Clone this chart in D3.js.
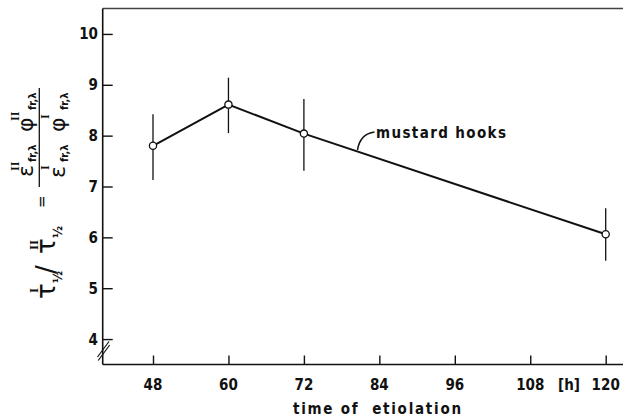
<!DOCTYPE html>
<html>
<head>
<meta charset="utf-8">
<script src="https://cdn.jsdelivr.net/npm/d3@7"></script>
<style>
  html, body { margin: 0; padding: 0; background: #fff; }
  svg { display: block; }
  .lbl { font-family: "DejaVu Sans Condensed", "DejaVu Sans", sans-serif; font-stretch: condensed; font-weight: bold; fill: #111; }
  .math { font-family: "DejaVu Sans", sans-serif; fill: #111; }
</style>
</head>
<body>
<svg id="chart" width="623" height="419"></svg>
<script>
// ---- data ----
const hours = [48, 60, 72, 120];
const ratio = [7.80, 8.61, 8.04, 6.06];
const errUpper = [8.42, 9.14, 8.72, 6.57];
const errLower = [7.13, 8.05, 7.31, 5.54];
const xTicks = [48, 60, 72, 84, 96, 108, 120];
const yTicks = [4, 5, 6, 7, 8, 9, 10];
const xTitle = "time of  etiolation";
const seriesLabel = "mustard hooks";
const unitLabel = "[h]";

const svg = d3.select("#chart");
const W = 623, H = 419;
const plotLeft = 102.7, plotBottom = 364.5, plotTop = 8.5;

const x = d3.scaleLinear().domain([40, 120]).range([plotLeft, 605.7]);
const y = d3.scaleLinear().domain([3.5, 10.5]).range([plotBottom, plotTop]);

// frame: top border and axes
svg.append("line").attr("x1", plotLeft).attr("x2", W).attr("y1", plotTop).attr("y2", plotTop)
  .attr("stroke", "#444").attr("stroke-width", 1.3);

// y axis (ticks inside)
const yAxis = d3.axisRight(y).tickValues(yTicks).tickSize(10).tickFormat("");
const gy = svg.append("g").attr("transform", `translate(${plotLeft},0)`).call(yAxis);
gy.select(".domain").remove();
gy.selectAll(".tick line").attr("stroke", "#111").attr("stroke-width", 1.4);
svg.append("line").attr("x1", plotLeft).attr("x2", plotLeft).attr("y1", plotTop).attr("y2", plotBottom)
  .attr("stroke", "#111").attr("stroke-width", 1.6);
svg.append("g").selectAll("text").data(yTicks).join("text")
  .attr("class", "lbl").attr("x", 98).attr("y", d => y(d) + 5.5)
  .attr("text-anchor", "end").attr("font-size", 15).text(d => d);

// x axis (ticks inside)
const xAxis = d3.axisTop(x).tickValues(xTicks).tickSize(9).tickFormat("");
const gx = svg.append("g").attr("transform", `translate(0,${plotBottom})`).call(xAxis);
gx.select(".domain").remove();
gx.selectAll(".tick line").attr("stroke", "#111").attr("stroke-width", 1.4);
svg.append("line").attr("x1", plotLeft).attr("x2", W).attr("y1", plotBottom).attr("y2", plotBottom)
  .attr("stroke", "#111").attr("stroke-width", 1.6);
svg.append("g").selectAll("text").data(xTicks).join("text")
  .attr("class", "lbl").attr("x", d => x(d)).attr("y", 390)
  .attr("text-anchor", "middle").attr("font-size", 15).text(d => d);
svg.append("text").attr("class", "lbl").attr("x", (x(108) + x(120)) / 2 + 1).attr("y", 390)
  .attr("text-anchor", "middle").attr("font-size", 15).text(unitLabel);

// axis break marks
[0, 3.5].forEach(o => {
  svg.append("line").attr("x1", 97.5 + o * 0.2).attr("y1", 357 + o).attr("x2", 109 + o * 0.2).attr("y2", 341.5 + o)
    .attr("stroke", "#111").attr("stroke-width", 1.2);
});

// x title
svg.append("text").attr("class", "lbl").attr("x", 293).attr("y", 414)
  .attr("font-size", 15).attr("textLength", 168).attr("lengthAdjust", "spacing")
  .style("white-space", "pre").text(xTitle);

// error bars
svg.append("g").selectAll("line").data(hours).join("line")
  .attr("x1", d => x(d)).attr("x2", d => x(d))
  .attr("y1", (d, i) => y(errUpper[i])).attr("y2", (d, i) => y(errLower[i]))
  .attr("stroke", "#111").attr("stroke-width", 1.3);

// line
const line = d3.line().x(d => x(d[0])).y(d => y(d[1]));
svg.append("path").datum(hours.map((h, i) => [h, ratio[i]]))
  .attr("d", line).attr("fill", "none").attr("stroke", "#111").attr("stroke-width", 2);

// points
svg.append("g").selectAll("circle").data(hours).join("circle")
  .attr("cx", d => x(d)).attr("cy", (d, i) => y(ratio[i])).attr("r", 3.6)
  .attr("fill", "#fff").attr("stroke", "#111").attr("stroke-width", 1.3);

// annotation
svg.append("path").attr("d", "M357.5,150 Q360,134 374.5,132")
  .attr("fill", "none").attr("stroke", "#111").attr("stroke-width", 1.5);
svg.append("text").attr("class", "lbl").attr("x", 376).attr("y", 137.5)
  .attr("font-size", 15).attr("textLength", 130).attr("lengthAdjust", "spacing")
  .text(seriesLabel);

// rotated y-axis label (built from pieces)
const gl = svg.append("g").attr("class", "math").attr("transform", "translate(40,300) rotate(-90)");
function t(u, v, size, str, cls) {
  const el = gl.append("text").attr("x", u).attr("y", v).attr("font-size", size).text(str);
  if (cls === "sub") el.attr("font-family", "'DejaVu Sans Condensed','DejaVu Sans',sans-serif").attr("font-weight", "bold");
  if (cls === "rom") el.attr("font-family", "'Liberation Serif',serif").attr("font-weight", "bold");
}
// tau^I_1/2 / tau^II_1/2
t(1, 15, 26, "τ");
t(7, -2, 13, "I", "rom");
t(17, 22, 13, "½", "sub");
t(26, 15, 26, "/");
t(46, 15, 26, "τ");
t(50, -2, 13, "II", "rom");
t(62, 22, 13, "½", "sub");
t(92, 7, 15, "=");
// fraction bar
gl.append("line").attr("x1", 113).attr("x2", 212).attr("y1", -0.7).attr("y2", -0.7)
  .attr("stroke", "#111").attr("stroke-width", 1.3);
// numerator
t(123, -7, 22, "ε");
t(129, -21, 12, "II", "rom");
t(138, -4, 11, "fr,λ", "sub");
t(168, -7, 22, "φ");
t(179, -21, 12, "II", "rom");
t(190, -4, 11, "fr,λ", "sub");
// denominator
t(122, 25, 22, "ε");
t(130, 9, 12, "I", "rom");
t(138, 28, 11, "fr,λ", "sub");
t(168, 25, 22, "φ");
t(181, 9, 12, "I", "rom");
t(190, 28, 11, "fr,λ", "sub");
</script>
</body>
</html>
